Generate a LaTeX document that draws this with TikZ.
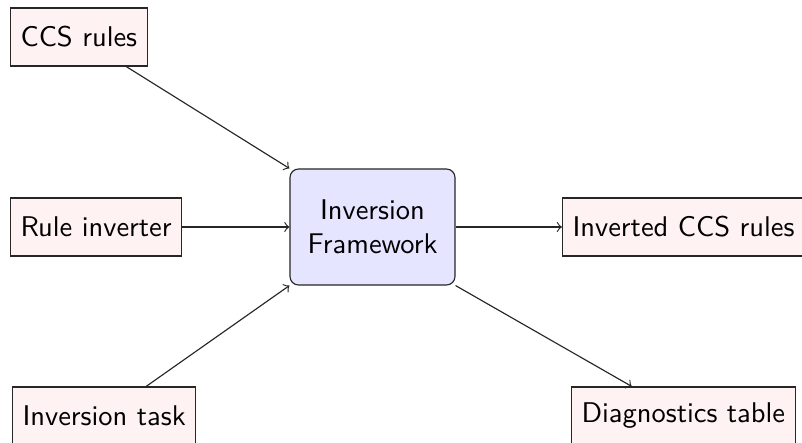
\documentclass[tikz,border=0pt]{standalone}
\begin{document}
\begin{tikzpicture}[x=0.3509pt,y=-0.3509pt,
  box/.style={draw=black!85,fill=red!5,font=\sffamily,minimum height=58*0.3509pt,inner xsep=3.5pt,anchor=west},
  core/.style={draw=black!85,fill=blue!10,font=\sffamily,rounded corners=3pt,align=center,minimum width=165*0.3509pt,minimum height=116*0.3509pt},
  conn/.style={->,draw=black!85}]
\clip (0,0) rectangle (802,443);
\fill[white] (0,0) rectangle (802,443);
\node[box] (ccs) at (10,37) {CCS rules};
\node[box] (rinv) at (10,227) {Rule inverter};
\node[box] (task) at (12,416) {Inversion task};
\node[core] (fw) at (372.5,227) {Inversion\\Framework};
\node[box] (out) at (562,227) {Inverted CCS rules};
\node[box] (diag) at (571,416) {Diagnostics table};
\draw[conn] (ccs) -- (fw.north west);
\draw[conn] (rinv) -- (fw);
\draw[conn] (task) -- (fw.south west);
\draw[conn] (fw) -- (out);
\draw[conn] (fw.south east) -- (diag);
\end{tikzpicture}
\end{document}
